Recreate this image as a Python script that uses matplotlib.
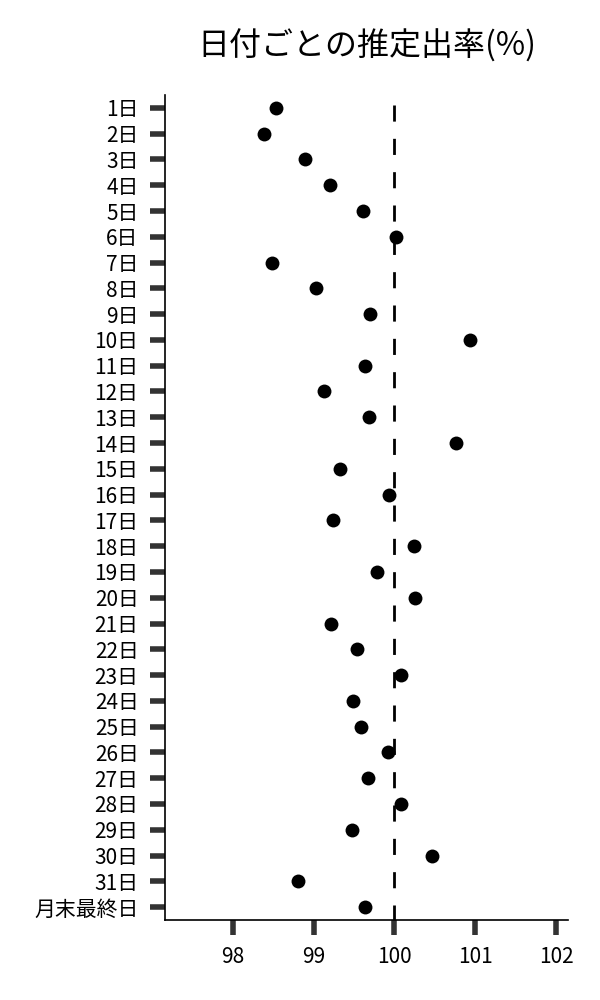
import matplotlib
matplotlib.use("Agg")
import matplotlib.pyplot as plt

plt.rcParams['font.family'] = ['Noto Sans CJK JP', 'DejaVu Sans']

days = [f"{d}日" for d in range(1, 32)] + ["月末最終日"]
rates = [98.53, 98.38, 98.89, 99.20, 99.61, 100.02, 98.48, 99.03, 99.70, 100.94,
         99.63, 99.13, 99.69, 100.76, 99.33, 99.93, 99.24, 100.24, 99.78, 100.26,
         99.22, 99.54, 100.08, 99.49, 99.58, 99.92, 99.67, 100.08, 99.48, 100.46,
         98.81, 99.64]
x_ticks = [98, 99, 100, 101, 102]
baseline = 100

fig = plt.figure(figsize=(6, 10), dpi=100)
ax = fig.add_axes([0.275, 0.08, 0.672, 0.825])

ypos = list(range(len(days)))
ax.scatter(rates, ypos, s=100, color="black", linewidths=0, zorder=3)
# dashed reference line at 100%
ax.plot([baseline, baseline], [-0.12, 31.5], color="black", dashes=(5.8, 6.2),
        linewidth=2, zorder=2)

ax.set_ylim(31.5, -0.5)
ax.set_xlim(97.16, 102.15)
ax.set_yticks(ypos)
ax.set_yticklabels(days, fontsize=15)
ax.set_xticks(x_ticks)
ax.set_xticklabels([str(t) for t in x_ticks], fontsize=15)

ax.tick_params(axis="both", length=11, width=4, color="#333333", pad=8)
ax.spines["top"].set_visible(False)
ax.spines["right"].set_visible(False)
ax.spines["left"].set_linewidth(1.2)
ax.spines["bottom"].set_linewidth(1.2)

ax.set_title("日付ごとの推定出率(%)", fontsize=23, pad=28)

fig.savefig("out.png", dpi=100)
